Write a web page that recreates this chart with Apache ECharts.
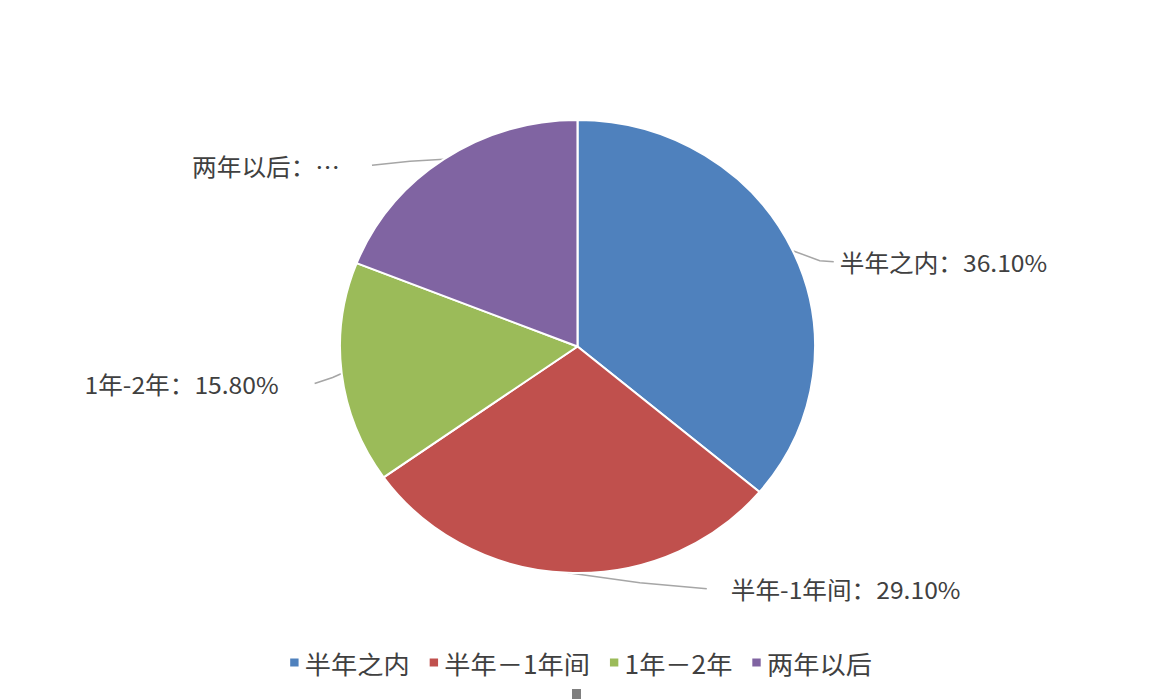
<!DOCTYPE html>
<html>
<head>
<meta charset="utf-8">
<script src="https://cdn.jsdelivr.net/npm/echarts@6/dist/echarts.min.js"></script>
<style>
  html, body { margin: 0; padding: 0; background: #fff; overflow: hidden; }
  #wrap { width: 1160px; height: 699px; overflow: hidden; }
  #chart { width: 1106px; height: 699px; transform: scaleX(1.0488); transform-origin: 0 0; }
</style>
</head>
<body>
<div id="wrap"><div id="chart"></div></div>
<script>
const categories = ['半年之内', '半年－1年间', '1年－2年', '两年以后'];
const labelNames = ['半年之内', '半年-1年间', '1年-2年', '两年以后'];
const values = [36.1, 29.1, 15.8, 19.0];
const colors = ['#4F81BD', '#C0504D', '#9BBB59', '#8064A2'];

const SX = 1.0488;
// label placement relative to the slice's edge anchor (image px)
const labelPlace = [
  { line: [[27, 10], [41, 11]], pos: [47, 11], align: 'left' },
  { line: [[72, 10], [139, 16]], pos: [163, 16], align: 'left' },
  { line: [[-9, 4], [-27, 10]], pos: [-63, 10], align: 'right' },
  { line: [[-34, 2], [-72, 6]], pos: [-104, 7], align: 'right' }
];

const chart = echarts.init(document.getElementById('chart'), null, { renderer: 'svg' });
const FONT = '"Noto Sans CJK SC", "Microsoft YaHei", sans-serif';

chart.setOption({
  animation: false,
  color: colors,
  legend: {
    bottom: 19,
    left: 'center',
    itemWidth: 10,
    itemHeight: 10,
    itemGap: 17,
    icon: 'rect',
    selectedMode: false,
    textStyle: { fontSize: 25, color: '#404040', fontFamily: FONT },
    data: categories
  },
  graphic: [{
    type: 'rect',
    shape: { x: 572 / SX, y: 689, width: 9 / SX, height: 10 },
    style: { fill: '#7f7f7f' },
    silent: true
  }],
  series: [{
    type: 'pie',
    center: [577.5 / SX, 346.5],
    radius: 226.5,
    startAngle: 90,
    clockwise: true,
    avoidLabelOverlap: false,
    emphasis: { disabled: true },
    itemStyle: { borderColor: '#fff', borderWidth: 2 },
    label: {
      show: true,
      fontSize: 23.5,
      color: '#404040',
      fontFamily: FONT,
      formatter: function (p) {
        const nm = labelNames[p.dataIndex];
        if (p.dataIndex === 3) return nm + '：…';
        return nm + '：' + p.value.toFixed(2) + '%';
      }
    },
    labelLine: {
      show: true,
      length: 20,
      length2: 12,
      lineStyle: { color: '#A6A6A6', width: 1.5 }
    },
    labelLayout: function (params) {
      const i = params.dataIndex;
      const p0 = params.labelLinePoints[0];
      const cfg = labelPlace[i];
      const pts = [[p0[0], p0[1]]].concat(cfg.line.map(function (o) {
        return [p0[0] + o[0] / SX, p0[1] + o[1]];
      }));
      return {
        x: p0[0] + cfg.pos[0] / SX,
        y: p0[1] + cfg.pos[1],
        align: cfg.align,
        verticalAlign: 'middle',
        labelLinePoints: pts
      };
    },
    data: categories.map(function (c, i) { return { name: c, value: values[i] }; })
  }]
});
</script>
</body>
</html>
